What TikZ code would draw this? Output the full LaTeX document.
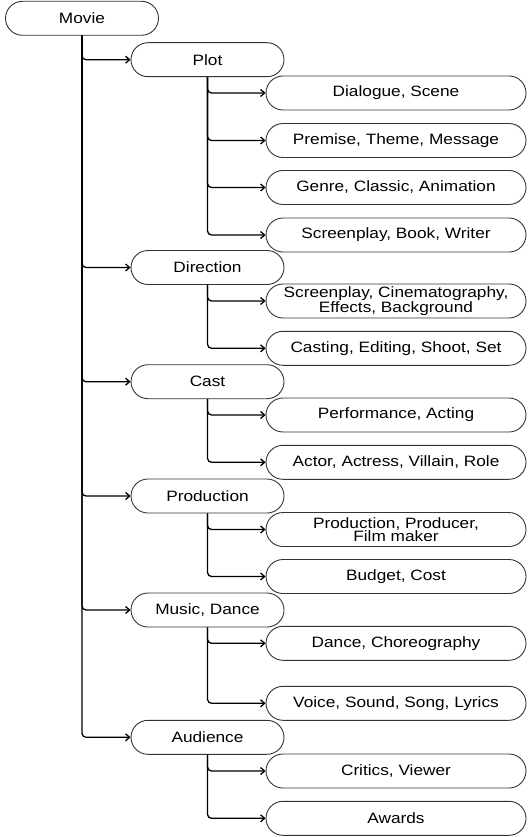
\documentclass[tikz,border=0pt]{standalone}
\usepackage{fontspec}
\setmainfont{Liberation Sans}[FakeStretch=1.15]
\usetikzlibrary{arrows.meta,shapes.misc}
\begin{document}
\begin{tikzpicture}[x=1pt,y=1pt,
  box/.style={draw=black!80, line width=0.9pt, rounded rectangle, minimum height=34pt,
    inner sep=1pt, align=center, font=\fontsize{15}{13.5}\selectfont},
  lvlzero/.style={box, minimum width=155pt},
  lvlone/.style={box, minimum width=155pt},
  lvltwo/.style={box, minimum width=262pt},
  conn/.style={line width=1.3pt, rounded corners=4pt, -{Straight Barb[length=4pt,width=7pt]}}]
\useasboundingbox (0,0) rectangle (528,-837);
\node[lvlzero] (movie) at (82,-18.3) {Movie};
\node[lvlone] (plot) at (207.5,-59.7) {Plot};
\node[lvltwo] (p1) at (396,-93) {Dialogue, Scene};
\node[lvltwo] (p2) at (396,-140.5) {Premise, Theme, Message};
\node[lvltwo] (p3) at (396,-187.5) {Genre, Classic, Animation};
\node[lvltwo] (p4) at (396,-235) {Screenplay, Book, Writer};
\node[lvlone] (dir) at (207.5,-267.5) {Direction};
\node[lvltwo] (d1) at (396,-301) {Screenplay, Cinematography,\\Effects, Background};
\node[lvltwo] (d2) at (396,-348.3) {Casting, Editing, Shoot, Set};
\node[lvlone] (cast) at (207.5,-381.7) {Cast};
\node[lvltwo] (c1) at (396,-415) {Performance, Acting};
\node[lvltwo] (c2) at (396,-462.3) {Actor, Actress, Villain, Role};
\node[lvlone] (prod) at (207.5,-496) {Production};
\node[lvltwo] (pr1) at (396,-529.5) {Production, Producer,\\Film maker};
\node[lvltwo] (pr2) at (396,-576.5) {Budget, Cost};
\node[lvlone] (music) at (207.5,-610) {Music, Dance};
\node[lvltwo] (m1) at (396,-643.3) {Dance, Choreography};
\node[lvltwo] (m2) at (396,-703.3) {Voice, Sound, Song, Lyrics};
\node[lvlone] (aud) at (207.5,-737.3) {Audience};
\node[lvltwo] (a1) at (396,-771) {Critics, Viewer};
\node[lvltwo] (a2) at (396,-818.3) {Awards};
\foreach \c in {plot,dir,cast,prod,music,aud} \draw[conn] (movie.south) |- (\c.west);
\foreach \c in {p1,p2,p3,p4} \draw[conn] (plot.south) |- (\c.west);
\foreach \c in {d1,d2} \draw[conn] (dir.south) |- (\c.west);
\foreach \c in {c1,c2} \draw[conn] (cast.south) |- (\c.west);
\foreach \c in {pr1,pr2} \draw[conn] (prod.south) |- (\c.west);
\foreach \c in {m1,m2} \draw[conn] (music.south) |- (\c.west);
\foreach \c in {a1,a2} \draw[conn] (aud.south) |- (\c.west);
\end{tikzpicture}
\end{document}
